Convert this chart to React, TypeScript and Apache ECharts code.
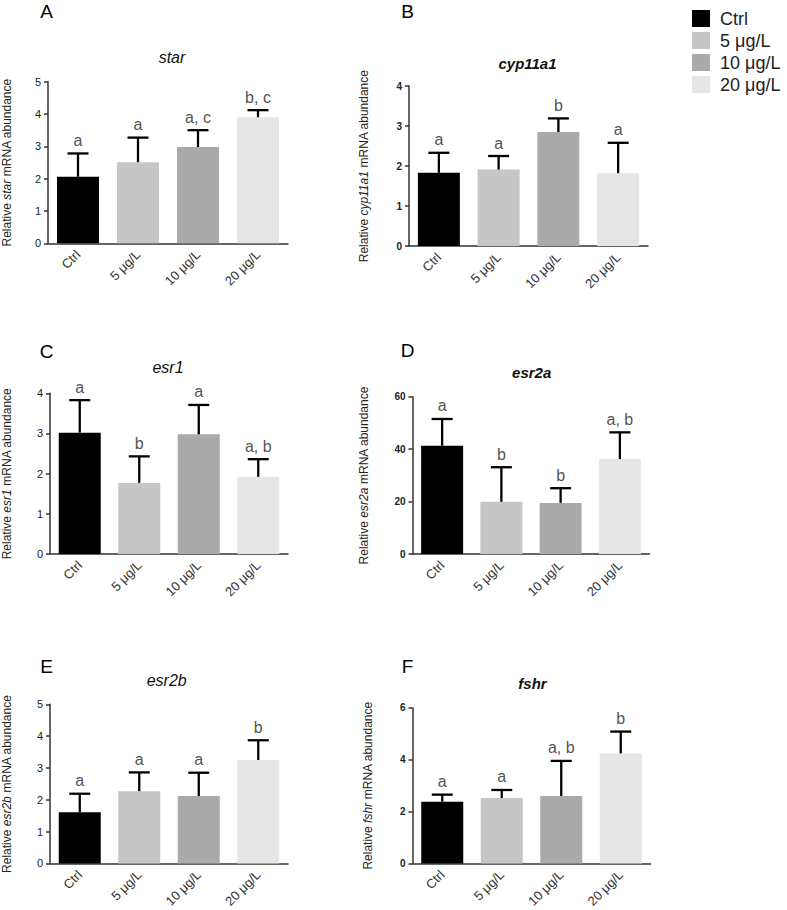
import React, { useEffect, useRef } from "react";
import * as echarts from "echarts";

const FONT = "'Liberation Sans', Arial, Helvetica, sans-serif";

const categories = ["Ctrl", "5 μg/L", "10 μg/L", "20 μg/L"];
const barColors = ["#000000", "#c6c6c6", "#aaaaaa", "#e6e6e6"];

const starMean = [2.06, 2.51, 2.98, 3.9];
const starErr = [0.72, 0.76, 0.52, 0.22];
const starLetters = ["a", "a", "a, c", "b, c"];

const cypMean = [1.83, 1.91, 2.85, 1.82];
const cypErr = [0.5, 0.34, 0.34, 0.76];
const cypLetters = ["a", "a", "b", "a"];

const esr1Mean = [3.02, 1.77, 2.98, 1.92];
const esr1Err = [0.81, 0.66, 0.73, 0.44];
const esr1Letters = ["a", "b", "a", "a, b"];

const esr2aMean = [41.3, 19.9, 19.5, 36.2];
const esr2aErr = [10.2, 13.2, 5.6, 10.2];
const esr2aLetters = ["a", "b", "b", "a, b"];

const esr2bMean = [1.61, 2.27, 2.12, 3.25];
const esr2bErr = [0.58, 0.59, 0.73, 0.62];
const esr2bLetters = ["a", "a", "a", "b"];

const fshrMean = [2.38, 2.52, 2.6, 4.24];
const fshrErr = [0.27, 0.31, 1.35, 0.84];
const fshrLetters = ["a", "a", "a, b", "b"];

const panels = [
  { tag: "A", gene: "star", mean: starMean, err: starErr, letters: starLetters, max: 5, interval: 1, boldTicks: false, titleBold: false,
    grid: { left: 45, top: 81.7, width: 243, height: 161.6 }, nameGap: 35, title: [172, 57], tagPos: [46.7, 11] },
  { tag: "B", gene: "cyp11a1", mean: cypMean, err: cypErr, letters: cypLetters, max: 4, interval: 1, boldTicks: true, titleBold: true,
    grid: { left: 409, top: 86, width: 239, height: 160 }, nameGap: 39, title: [527.5, 63], tagPos: [407.5, 11] },
  { tag: "C", gene: "esr1", mean: esr1Mean, err: esr1Err, letters: esr1Letters, max: 4, interval: 1, boldTicks: false, titleBold: false,
    grid: { left: 45.5, top: 393.3, width: 242.5, height: 160.7 }, nameGap: 37, title: [168, 367], tagPos: [46.7, 351.7] },
  { tag: "D", gene: "esr2a", mean: esr2aMean, err: esr2aErr, letters: esr2aLetters, max: 60, interval: 20, boldTicks: true, titleBold: true,
    grid: { left: 412.5, top: 396.7, width: 237, height: 157.3 }, nameGap: 43, title: [531.7, 372], tagPos: [407.5, 350.3] },
  { tag: "E", gene: "esr2b", mean: esr2bMean, err: esr2bErr, letters: esr2bLetters, max: 5, interval: 1, boldTicks: false, titleBold: false,
    grid: { left: 45.5, top: 704.3, width: 242.5, height: 161.4 }, nameGap: 37, title: [166.7, 680], tagPos: [46.7, 666.7] },
  { tag: "F", gene: "fshr", mean: fshrMean, err: fshrErr, letters: fshrLetters, max: 6, interval: 2, boldTicks: true, titleBold: true,
    grid: { left: 412.5, top: 707.7, width: 238, height: 158 }, nameGap: 39, title: [532.5, 683], tagPos: [407.5, 666] },
];

export default function App() {
  const ref = useRef<HTMLDivElement>(null);

  useEffect(() => {
    document.body.style.margin = "0";
    if (!ref.current) return;
    const chart = echarts.init(ref.current, undefined, { renderer: "svg" });

    const grids: any[] = [];
    const xAxes: any[] = [];
    const yAxes: any[] = [];
    const series: any[] = [];
    const graphics: any[] = [];

    panels.forEach((p, i) => {
      grids.push({ ...p.grid, containLabel: false });
      xAxes.push({
        type: "category",
        gridIndex: i,
        data: categories,
        axisLine: { lineStyle: { color: "#333", width: 1.5 } },
        axisTick: { alignWithLabel: true, length: 5, lineStyle: { color: "#333", width: 1.5 } },
        axisLabel: { rotate: 45, margin: 9, fontSize: 13, color: "#333", fontFamily: FONT },
        splitLine: { show: false },
      });
      yAxes.push({
        type: "value",
        gridIndex: i,
        min: 0,
        max: p.max,
        interval: p.interval,
        name: `Relative {i|${p.gene}} mRNA abundance`,
        nameLocation: "middle",
        nameRotate: 90,
        nameGap: p.nameGap,
        nameTextStyle: {
          fontSize: 12,
          color: "#222",
          fontFamily: FONT,
          rich: { i: { fontSize: 12, fontStyle: "italic", color: "#222", fontFamily: FONT } },
        },
        axisLine: { show: true, lineStyle: { color: "#333", width: 1.5 } },
        axisTick: { show: true, length: 4, lineStyle: { color: "#333", width: 1.5 } },
        axisLabel: {
          margin: 7,
          fontSize: p.boldTicks ? 10 : 11,
          fontWeight: p.boldTicks ? "bold" : "normal",
          color: "#222",
          fontFamily: FONT,
        },
        splitLine: { show: false },
      });
      series.push({
        type: "bar",
        xAxisIndex: i,
        yAxisIndex: i,
        barWidth: 42,
        data: p.mean.map((v, j) => ({ value: v, itemStyle: { color: barColors[j] } })),
        z: 2,
      });
      const letters = p.letters;
      series.push({
        type: "custom",
        xAxisIndex: i,
        yAxisIndex: i,
        z: 3,
        data: p.mean.map((m, j) => [j, m, p.err[j]]),
        renderItem: (params: any, api: any) => {
          const x = api.value(0);
          const m = api.value(1);
          const e = api.value(2);
          const base = api.coord([x, m]);
          const top = api.coord([x, m + e]);
          const half = 10.5;
          return {
            type: "group",
            children: [
              { type: "line", shape: { x1: base[0], y1: base[1], x2: top[0], y2: top[1] }, style: { stroke: "#000", lineWidth: 2.3 } },
              { type: "line", shape: { x1: top[0] - half, y1: top[1], x2: top[0] + half, y2: top[1] }, style: { stroke: "#000", lineWidth: 2.3 } },
              {
                type: "text",
                x: top[0],
                y: top[1] - 5,
                style: { text: letters[params.dataIndex], align: "center", verticalAlign: "bottom", fontSize: 16, fill: "#555", fontFamily: FONT },
              },
            ],
          };
        },
      });
      graphics.push({
        type: "text",
        x: p.tagPos[0],
        y: p.tagPos[1],
        style: { text: p.tag, align: "center", verticalAlign: "middle", fontSize: 19, fill: "#000", fontFamily: FONT },
      });
      graphics.push({
        type: "text",
        x: p.title[0],
        y: p.title[1],
        style: {
          text: p.gene,
          align: "center",
          verticalAlign: "middle",
          fontSize: p.titleBold ? 15 : 16,
          fontStyle: "italic",
          fontWeight: p.titleBold ? "bold" : "normal",
          fill: "#111",
          fontFamily: FONT,
        },
      });
    });

    categories.forEach((c, j) => {
      graphics.push({
        type: "rect",
        shape: { x: 692, y: 10 + j * 22, width: 18, height: 17 },
        style: { fill: barColors[j] },
      });
      graphics.push({
        type: "text",
        x: 720,
        y: 18.5 + j * 22,
        style: { text: c, align: "left", verticalAlign: "middle", fontSize: 18, fill: "#222", fontFamily: FONT },
      });
    });

    chart.setOption({
      animation: false,
      backgroundColor: "#ffffff",
      grid: grids,
      xAxis: xAxes,
      yAxis: yAxes,
      series,
      graphic: graphics,
    });

    return () => chart.dispose();
  }, []);

  return <div ref={ref} style={{ width: 787, height: 910 }} />;
}
